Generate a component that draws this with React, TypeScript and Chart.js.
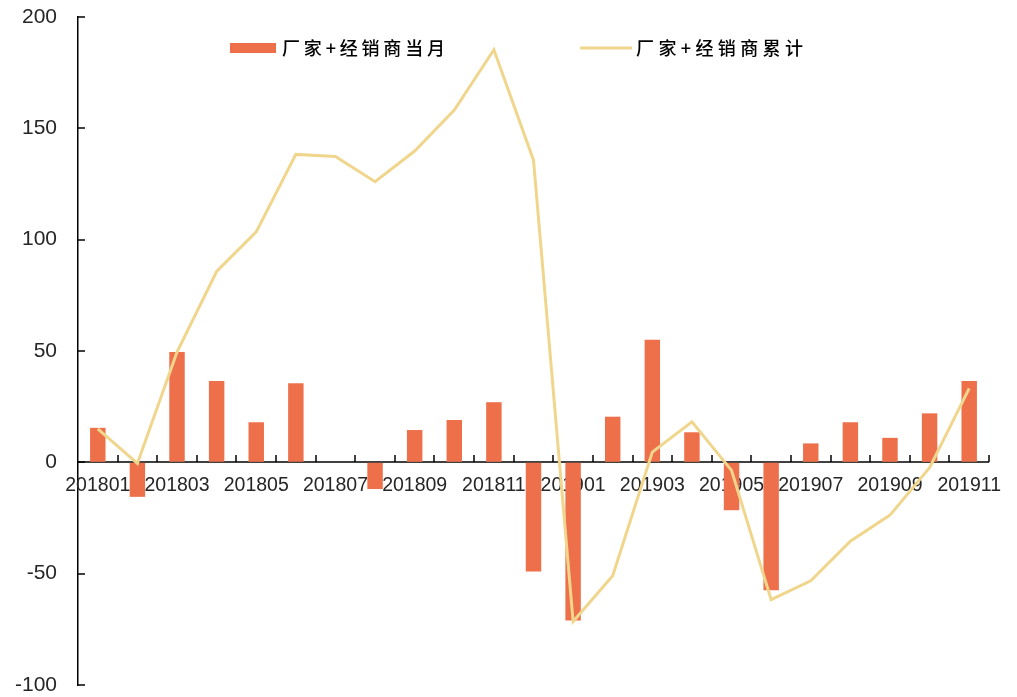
import React, { useEffect, useRef } from 'react';
import { Chart, registerables } from 'chart.js';

Chart.register(...registerables);

const categories = [
  '201801', '201802', '201803', '201804', '201805', '201806', '201807', '201808', '201809', '201810', '201811', '201812',
  '201901', '201902', '201903', '201904', '201905', '201906', '201907', '201908', '201909', '201910', '201911',
];

const monthlyLabel = '厂家+经销商当月';
const cumulativeLabel = '厂家+经销商累计';

const monthlyValues = [
  15.5, -15.5, 49.5, 36.5, 18, 35.5, 0, -12, 14.5, 19, 27, -49,
  -71, 20.5, 55, 13.5, -21.5, -57.5, 8.5, 18, 11, 22, 36.5,
];

const cumulativeValues = [
  15, -0.5, 49.5, 85.7, 103.5, 138.3, 137.4, 126, 139.8, 158.2, 185.3, 135.7,
  -71.5, -50.9, 4.6, 18.2, -3.6, -61.7, -53.2, -35.4, -23.7, -2.4, 33.2,
];

const yMin = -100;
const yMax = 200;
const yStep = 50;

const BAR_COLOR = '#ED704A';
const LINE_COLOR = '#F0D68C';
const TEXT_COLOR = '#262626';
const LATIN_FONT = '"Liberation Sans", Arial, sans-serif';
const CJK_FONT = '"Noto Sans CJK SC", sans-serif';

export default function App() {
  const ref = useRef<HTMLCanvasElement>(null);

  useEffect(() => {
    const canvas = ref.current;
    if (!canvas) return;

    // Draws the category axis at y = 0: its line, tick marks and labels.
    const zeroAxis = {
      id: 'zeroAxis',
      beforeDatasetsDraw(chart: any) {
        const { ctx } = chart;
        const x = chart.scales.x;
        const y = chart.scales.y;
        const zero = Math.round(y.getPixelForValue(0));
        ctx.save();
        ctx.strokeStyle = '#000';
        ctx.lineWidth = 1.5;
        ctx.beginPath();
        ctx.moveTo(x.left, zero);
        ctx.lineTo(x.right, zero);
        ctx.stroke();
        y.ticks.forEach((t: any) => {
          const py = Math.round(y.getPixelForValue(t.value));
          ctx.beginPath();
          ctx.moveTo(y.right, py);
          ctx.lineTo(y.right + 7, py);
          ctx.stroke();
        });
        for (let i = 1; i <= categories.length; i++) {
          const px = i < categories.length
            ? Math.round((x.getPixelForValue(i - 1) + x.getPixelForValue(i)) / 2)
            : Math.round(x.right);
          ctx.beginPath();
          ctx.moveTo(px, zero);
          ctx.lineTo(px, zero - 7);
          ctx.stroke();
        }
        ctx.fillStyle = TEXT_COLOR;
        ctx.font = '19.5px ' + LATIN_FONT;
        ctx.textAlign = 'center';
        ctx.textBaseline = 'middle';
        categories.forEach((c, i) => {
          if (i % 2 !== 0) return;
          ctx.fillText(c, x.getPixelForValue(i), zero + 24);
        });
        ctx.restore();
      },
    };

    const drawSpaced = (ctx: any, text: string, x: number, y: number, target: number) => {
      ctx.letterSpacing = '0px';
      const w0 = ctx.measureText(text).width;
      const n = Array.from(text).length;
      const ls = Math.max(0, (target - w0) / (n - 1));
      ctx.letterSpacing = ls + 'px';
      ctx.fillText(text, x, y);
      ctx.letterSpacing = '0px';
    };

    const customLegend = {
      id: 'customLegend',
      afterDraw(chart: any) {
        const { ctx } = chart;
        ctx.save();
        const cy = 48;
        ctx.fillStyle = BAR_COLOR;
        ctx.fillRect(230, cy - 5, 46, 10);
        ctx.fillStyle = '#000';
        ctx.font = '500 18px ' + CJK_FONT;
        ctx.textBaseline = 'middle';
        ctx.textAlign = 'left';
        drawSpaced(ctx, monthlyLabel, 282, cy, 163);
        ctx.strokeStyle = LINE_COLOR;
        ctx.lineWidth = 3;
        ctx.beginPath();
        ctx.moveTo(580, cy);
        ctx.lineTo(632, cy);
        ctx.stroke();
        ctx.fillStyle = '#000';
        drawSpaced(ctx, cumulativeLabel, 636, cy, 167);
        ctx.restore();
      },
    };

    const chart = new Chart(canvas, {
      type: 'bar',
      data: {
        labels: categories,
        datasets: [
          {
            type: 'line',
            label: cumulativeLabel,
            data: cumulativeValues,
            borderColor: LINE_COLOR,
            backgroundColor: LINE_COLOR,
            borderWidth: 3,
            pointRadius: 0,
            tension: 0,
            order: 0,
          } as any,
          {
            type: 'bar',
            label: monthlyLabel,
            data: monthlyValues,
            backgroundColor: BAR_COLOR,
            borderWidth: 0,
            barPercentage: 0.39,
            categoryPercentage: 1,
            order: 1,
          },
        ],
      },
      options: {
        responsive: false,
        animation: false,
        layout: { padding: { top: 17, bottom: 12, left: 0, right: 28 } },
        plugins: {
          legend: { display: false },
          tooltip: { enabled: false },
        },
        scales: {
          x: {
            type: 'category',
            display: false,
            offset: true,
          },
          y: {
            min: yMin,
            max: yMax,
            grid: {
              display: true,
              drawOnChartArea: false,
              drawTicks: true,
              tickLength: 21,
              tickColor: 'rgba(0,0,0,0)',
            },
            border: { display: true, color: '#000', width: 1.5 },
            ticks: {
              stepSize: yStep,
              padding: 0,
              color: TEXT_COLOR,
              font: { family: LATIN_FONT, size: 21, lineHeight: 1 },
            },
            afterFit: (s: any) => {
              s.width = 78;
            },
          },
        },
      },
      plugins: [zeroAxis, customLegend],
    });

    return () => chart.destroy();
  }, []);

  return (
    <div style={{ position: 'fixed', left: 0, top: 0, width: 1017, height: 697, background: '#fff' }}>
      <canvas ref={ref} width={1017} height={697} style={{ display: 'block' }} />
    </div>
  );
}
